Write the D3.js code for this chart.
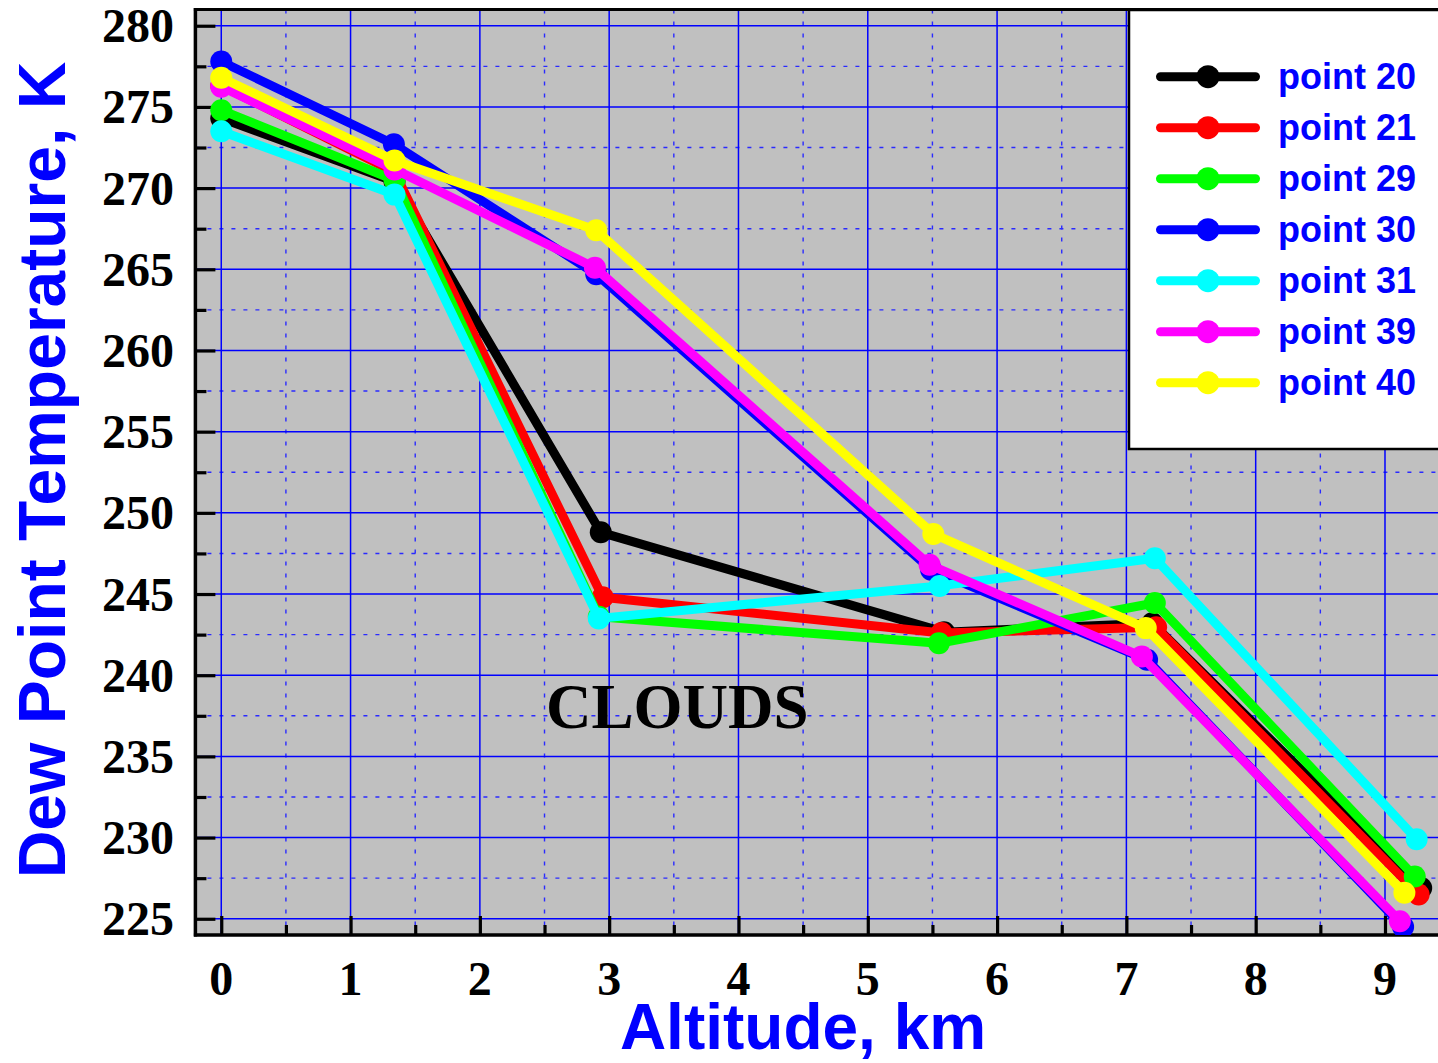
<!DOCTYPE html>
<html>
<head>
<meta charset="utf-8">
<script src="https://cdn.jsdelivr.net/npm/d3@7"></script>
<style>
  html, body { margin: 0; padding: 0; background: #ffffff; }
  svg { display: block; }
</style>
</head>
<body>
<svg id="chart" width="1438" height="1063"></svg>
<script>
// ---------------- DATA ----------------
const seriesNames = ["point 20", "point 21", "point 29", "point 30", "point 31", "point 39", "point 40"];
const seriesColors = ["#000000", "#ff0000", "#00ff00", "#0000ff", "#00ffff", "#ff00ff", "#ffff00"];

const alt20 = [0, 1.34, 2.935, 5.59, 7.2, 9.28];
const temp20 = [274.3, 270.4, 248.8, 242.65, 243.2, 226.9];
const alt21 = [0, 1.34, 2.95, 5.57, 7.23, 9.26];
const temp21 = [276.3, 271.0, 244.8, 242.6, 242.95, 226.5];
const alt29 = [0, 1.34, 2.92, 5.55, 7.22, 9.23];
const temp29 = [274.8, 270.5, 243.6, 241.97, 244.45, 227.6];
const alt30 = [0, 1.335, 2.9, 5.49, 7.16, 9.14];
const temp30 = [277.8, 272.7, 264.7, 246.5, 240.95, 224.5];
const alt31 = [0, 1.34, 2.92, 5.555, 7.22, 9.245];
const temp31 = [273.5, 269.6, 243.5, 245.5, 247.2, 229.9];
const alt39 = [0, 1.34, 2.89, 5.478, 7.12, 9.115];
const temp39 = [276.25, 271.15, 265.1, 246.8, 241.15, 224.85];
const alt40 = [0, 1.34, 2.9, 5.507, 7.15, 9.15];
const temp40 = [276.8, 271.7, 267.4, 248.7, 242.9, 226.6];

const altitudes = [alt20, alt21, alt29, alt30, alt31, alt39, alt40];
const temperatures = [temp20, temp21, temp29, temp30, temp31, temp39, temp40];

const xTickValues = [0, 1, 2, 3, 4, 5, 6, 7, 8, 9];
const xMinorValues = [0.5, 1.5, 2.5, 3.5, 4.5, 5.5, 6.5, 7.5, 8.5];
const yTickValues = [225, 230, 235, 240, 245, 250, 255, 260, 265, 270, 275, 280];
const yMinorValues = [227.5, 232.5, 237.5, 242.5, 247.5, 252.5, 257.5, 262.5, 267.5, 272.5, 277.5];

const xTitle = "Altitude, km";
const yTitle = "Dew Point Temperature, K";
const annotation = "CLOUDS";

// ---------------- LAYOUT ----------------
const svg = d3.select("#chart");
const L = 195.4, R = 1439.3, T = 9.5, B = 935;
const x = d3.scaleLinear().domain([-0.2, 9.42]).range([L, R]);
const y = d3.scaleLinear().domain([224, 281]).range([B, T]);

const gridBlue = "#0000ff";

// plot background
svg.append("rect").attr("x", L).attr("y", T).attr("width", R - L).attr("height", B - T)
  .attr("fill", "#c0c0c0");

svg.append("clipPath").attr("id", "plotclip").append("rect")
  .attr("x", L).attr("y", T).attr("width", R - L).attr("height", B - T);

const grid = svg.append("g").attr("clip-path", "url(#plotclip)");
// minor grid (dashed)
grid.selectAll(".gxm").data(xMinorValues).enter().append("line")
  .attr("x1", d => x(d)).attr("x2", d => x(d)).attr("y1", T).attr("y2", B)
  .attr("stroke", "#2a2aff").attr("stroke-width", 1.4).attr("stroke-dasharray", "4,8");
grid.selectAll(".gym").data(yMinorValues).enter().append("line")
  .attr("y1", d => y(d)).attr("y2", d => y(d)).attr("x1", L).attr("x2", R)
  .attr("stroke", "#2a2aff").attr("stroke-width", 1.4).attr("stroke-dasharray", "4,8");
// major grid (solid)
grid.selectAll(".gx").data(xTickValues).enter().append("line")
  .attr("x1", d => x(d)).attr("x2", d => x(d)).attr("y1", T).attr("y2", B)
  .attr("stroke", gridBlue).attr("stroke-width", 1.5);
grid.selectAll(".gy").data(yTickValues).enter().append("line")
  .attr("y1", d => y(d)).attr("y2", d => y(d)).attr("x1", L).attr("x2", R)
  .attr("stroke", gridBlue).attr("stroke-width", 1.5);

// axes with inward ticks
const xAxisMajor = d3.axisTop(x).tickValues(xTickValues).tickSize(19).tickFormat("");
const xAxisMinor = d3.axisTop(x).tickValues(xMinorValues).tickSize(10).tickFormat("");
const yAxisMajor = d3.axisRight(y).tickValues(yTickValues).tickSize(20).tickFormat("");
const yAxisMinor = d3.axisRight(y).tickValues(yMinorValues).tickSize(11).tickFormat("");

function styleAxis(g) {
  g.select(".domain").remove();
  g.selectAll(".tick line").attr("stroke", "#000").attr("stroke-width", 3.2);
}
svg.append("g").attr("transform", `translate(0,${B})`).call(xAxisMajor).call(styleAxis);
svg.append("g").attr("transform", `translate(0,${B})`).call(xAxisMinor).call(styleAxis);
svg.append("g").attr("transform", `translate(${L},0)`).call(yAxisMajor).call(styleAxis);
svg.append("g").attr("transform", `translate(${L},0)`).call(yAxisMinor).call(styleAxis);

// frame lines
svg.append("line").attr("x1", L - 1.5).attr("x2", 1438).attr("y1", B).attr("y2", B)
  .attr("stroke", "#000").attr("stroke-width", 3.5);
svg.append("line").attr("x1", L).attr("x2", L).attr("y1", T - 1.5).attr("y2", B + 1.5)
  .attr("stroke", "#000").attr("stroke-width", 3.5);
svg.append("line").attr("x1", L - 1.5).attr("x2", 1438).attr("y1", T).attr("y2", T)
  .attr("stroke", "#000").attr("stroke-width", 3);

// tick labels
const tickFont = "'Liberation Serif', 'Times New Roman', serif";
svg.append("g").selectAll("text").data(xTickValues).enter().append("text")
  .attr("x", d => x(d)).attr("y", 995)
  .attr("text-anchor", "middle")
  .attr("font-family", tickFont).attr("font-weight", "bold").attr("font-size", 48)
  .attr("fill", "#000").text(d => d);
svg.append("g").selectAll("text").data(yTickValues).enter().append("text")
  .attr("x", 174).attr("y", d => y(d) + 16.5)
  .attr("text-anchor", "end")
  .attr("font-family", tickFont).attr("font-weight", "bold").attr("font-size", 48)
  .attr("fill", "#000").text(d => d);

// axis titles
const titleFont = "'Liberation Sans', Arial, sans-serif";
svg.append("text").attr("x", 803).attr("y", 1049).attr("text-anchor", "middle")
  .attr("font-family", titleFont).attr("font-weight", "bold").attr("font-size", 64)
  .attr("fill", "#0000ff").text(xTitle);
svg.append("text").attr("transform", "translate(65,470) rotate(-90)").attr("text-anchor", "middle")
  .attr("font-family", titleFont).attr("font-weight", "bold").attr("font-size", 66)
  .attr("fill", "#0000ff").text(yTitle);

// annotation
svg.append("text").attr("x", 546).attr("y", 728)
  .attr("font-family", tickFont).attr("font-weight", "bold").attr("font-size", 63)
  .attr("fill", "#000").text(annotation);

// series
const line = d3.line().x(d => x(d[0])).y(d => y(d[1]));
const plot = svg.append("g").attr("clip-path", "url(#plotclip)");
seriesNames.forEach((name, i) => {
  const pts = altitudes[i].map((a, j) => [a, temperatures[i][j]]);
  const g = plot.append("g");
  g.append("path").datum(pts).attr("d", line)
    .attr("fill", "none").attr("stroke", seriesColors[i]).attr("stroke-width", 9)
    .attr("stroke-linejoin", "round").attr("stroke-linecap", "round");
  g.selectAll("circle").data(pts).enter().append("circle")
    .attr("cx", d => x(d[0])).attr("cy", d => y(d[1])).attr("r", 11)
    .attr("fill", seriesColors[i]);
});

// legend
const lg = svg.append("g");
lg.append("rect").attr("x", 1129).attr("y", 10).attr("width", 320).attr("height", 439)
  .attr("fill", "#ffffff").attr("stroke", "#000").attr("stroke-width", 2.5);
const rowY0 = 76.7, rowStep = 51;
seriesNames.forEach((name, i) => {
  const cy = rowY0 + i * rowStep;
  lg.append("line").attr("x1", 1160.5).attr("x2", 1255.5).attr("y1", cy).attr("y2", cy)
    .attr("stroke", seriesColors[i]).attr("stroke-width", 9).attr("stroke-linecap", "round");
  lg.append("circle").attr("cx", 1208).attr("cy", cy).attr("r", 11.5).attr("fill", seriesColors[i]);
  lg.append("text").attr("x", 1278).attr("y", cy + 12)
    .attr("font-family", titleFont).attr("font-weight", "bold").attr("font-size", 36)
    .attr("fill", "#0000ff").text(name);
});
</script>
</body>
</html>
